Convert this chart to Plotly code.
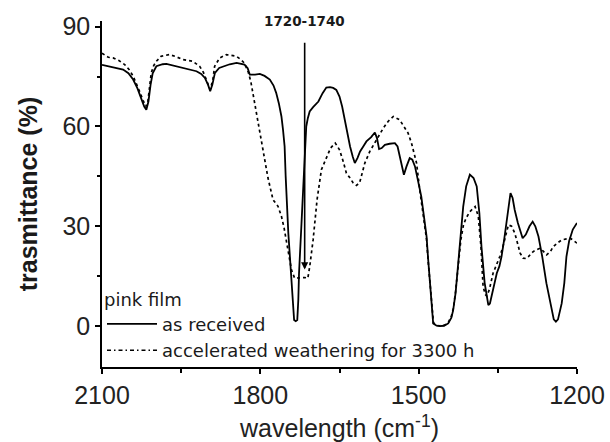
import plotly.graph_objects as go

# FTIR transmittance spectra of the pink film
wn_received = [2100, 2095, 2075, 2060, 2050, 2041, 2033, 2026, 2020, 2016, 2012, 2008, 2004, 1997,
               1985, 1978, 1965, 1947, 1935, 1921, 1912, 1905, 1899, 1895, 1891, 1886, 1878, 1870,
               1858, 1845, 1835, 1830, 1824, 1820, 1810, 1801, 1792, 1782, 1775, 1770, 1765, 1760,
               1757, 1754, 1752, 1750, 1747, 1744, 1741, 1739, 1736, 1733, 1730, 1728, 1726.7, 1722,
               1718, 1713, 1710, 1706.5, 1700, 1690, 1682, 1675, 1668, 1662, 1656, 1650, 1645, 1640,
               1635, 1630, 1625, 1621, 1616, 1611, 1605, 1599, 1590, 1583, 1579, 1575, 1570, 1564,
               1555, 1545, 1540, 1535, 1528, 1523, 1517, 1512, 1507, 1501, 1495, 1490, 1485, 1482,
               1479, 1476, 1472.5, 1466, 1460, 1452, 1444, 1438, 1434.6, 1430, 1425, 1420, 1415.6,
               1410, 1403, 1396, 1390, 1385, 1381, 1375, 1370, 1368, 1365, 1362, 1357, 1352, 1347,
               1343, 1338, 1333, 1329, 1326, 1322, 1318, 1312, 1303, 1297, 1290, 1284, 1279, 1273,
               1266, 1258, 1250, 1244, 1240, 1236, 1229, 1224, 1220, 1215, 1208, 1200]
t_received = [78.5, 78.3, 77.6, 77.1, 76.0, 74.1, 71.5, 68.5, 66.0, 65.0, 67.5, 72.5, 76.0, 78.1,
              78.7, 78.8, 78.3, 77.8, 77.3, 76.6, 75.8, 74.6, 72.5, 70.6, 72.5, 76.1, 77.6, 78.1,
              78.7, 79.1, 78.9, 78.6, 77.5, 75.6, 75.6, 75.8, 75.2, 74.1, 72.3, 70.1, 67.0, 63.0,
              59.0, 54.0, 45.0, 35.9, 28.0, 20.9, 13.5, 7.8, 1.8, 1.5, 1.8, 8.0, 15.9, 30.9,
              44.0, 60.0, 62.5, 64.5, 65.8, 67.5, 70.0, 71.7, 71.8, 71.6, 71.0, 69.0, 66.0, 62.0,
              57.0, 54.0, 51.0, 49.0, 50.5, 52.5, 54.0, 55.5, 56.8, 58.2, 56.5, 53.2, 53.5, 54.5,
              54.8, 55.0, 54.0, 50.0, 45.5, 48.0, 50.5, 50.0, 48.0, 43.5, 38.9, 33.0, 26.9, 20.0,
              13.9, 7.0, 0.8, 0.1, 0.0, 0.1, 0.8, 2.5, 4.8, 10.0, 18.9, 27.0, 35.9,
              42.0, 45.5, 44.5, 42.0, 34.0, 23.9, 13.0, 7.0, 6.3, 6.8, 8.8, 12.5, 15.9, 18.0,
              20.9, 26.0, 31.9, 36.5, 40.0, 38.5, 34.9, 31.0, 26.4, 27.5, 30.0, 31.4, 30.0, 26.9,
              21.0, 12.9, 6.0, 2.0, 1.3, 2.0, 6.8, 13.0, 20.9, 25.5, 29.0, 31.0]

wn_weathered = [2100, 2095, 2088, 2079, 2068, 2057, 2048, 2041, 2035, 2029, 2022, 2017, 2013, 2009,
                2006.7, 2002, 1997, 1988, 1972, 1960, 1947, 1928, 1915, 1908, 1902, 1895, 1890,
                1886.6, 1877, 1864.5, 1845.5, 1836, 1830, 1823, 1818, 1814, 1809, 1804, 1795,
                1785.5, 1776, 1766.5, 1760, 1755, 1750.7, 1745, 1741, 1735, 1728, 1722, 1716,
                1710, 1706.4, 1700, 1692.5, 1684.3, 1675, 1667, 1658, 1650, 1643, 1637, 1630,
                1624, 1618, 1612, 1607, 1602, 1592.6, 1580, 1567, 1558, 1548, 1536, 1528, 1520,
                1513.6, 1504, 1498, 1492, 1488, 1485, 1482, 1479, 1476, 1472, 1466, 1460, 1452,
                1444, 1438, 1434, 1430, 1425, 1420, 1415, 1410, 1403, 1396, 1393, 1387, 1382,
                1378, 1374, 1371, 1366, 1359, 1352, 1346, 1341, 1337, 1330, 1324, 1318, 1312,
                1308, 1302, 1296, 1292, 1283, 1276, 1270, 1264, 1257.5, 1250, 1245, 1237, 1229,
                1220, 1213, 1207, 1200]
t_weathered = [82.0, 81.6, 80.8, 80.6, 79.8, 78.6, 77.0, 75.1, 73.0, 70.6, 67.8, 66.0, 67.6, 72.5,
               76.1, 78.3, 79.6, 81.1, 81.6, 81.0, 80.1, 79.6, 78.1, 76.3, 74.1, 71.1, 74.0,
               78.1, 80.6, 81.6, 81.1, 80.0, 79.0, 76.4, 73.5, 70.1, 65.5, 61.1, 53.0,
               44.5, 38.0, 36.0, 33.0, 29.5, 25.9, 21.0, 16.9, 14.4, 14.5, 14.7, 14.6,
               14.4, 17.9, 25.9, 38.0, 47.0, 50.5, 53.5, 55.0, 53.0, 49.5, 46.0, 44.5,
               43.0, 42.3, 43.0, 46.0, 49.0, 52.5, 56.0, 59.5, 61.5, 63.0, 62.0, 60.0, 58.0,
               55.0, 49.0, 41.0, 34.0, 30.0, 26.0, 19.5, 13.5, 7.0, 1.0, 0.2, 0.1, 0.2,
               1.0, 3.0, 5.5, 10.5, 19.0, 26.0, 30.5, 32.5, 34.4, 35.5, 35.9, 33.0, 24.0,
               12.0, 9.5, 9.0, 11.0, 15.9, 18.5, 21.0, 23.5, 25.9, 30.4, 30.0, 28.0, 24.5,
               22.0, 20.4, 20.3, 20.9, 22.4, 23.0, 23.4, 22.5, 21.4, 22.5, 23.9, 25.0, 25.9,
               26.2, 26.4, 25.8, 24.9]

x_ticks = [2100, 1800, 1500, 1200]
x_minor = [1950, 1650, 1350]
y_ticks = [0, 30, 60, 90]
y_minor = [15, 45, 75]

# carbonyl band marker: label sits at the arrow tail, arrow points down to the band
band_label = "1720-1740"
band_pos = 1716
band_label_y = 91.6
band_tip = 17.0

FONT = "Liberation Sans, Arial, sans-serif"
WIDE = "DejaVu Sans, Liberation Sans, sans-serif"
INK = "#1a1a1a"

fig = go.Figure()
fig.add_trace(go.Scatter(
    x=wn_received, y=t_received, mode="lines", name="as received",
    line=dict(color="black", width=1.8),
))
fig.add_trace(go.Scatter(
    x=wn_weathered, y=t_weathered, mode="lines", name="accelerated weathering for 3300 h",
    line=dict(color="black", width=1.7, dash="dot"), showlegend=False,
    legendgroup="weathered",
))
# legend key for the weathered spectrum (dash-dot sample)
fig.add_trace(go.Scatter(
    x=[None], y=[None], mode="lines", name="accelerated weathering for 3300 h",
    line=dict(color="black", width=1.5, dash="4px,3px,1.5px,3px"),
    legendgroup="weathered",
))

fig.add_annotation(
    x=band_pos, y=band_tip, ax=band_pos, ay=band_label_y, axref="x", ayref="y",
    xref="x", yref="y", text="<b>" + band_label + "</b>", showarrow=True,
    arrowhead=2, arrowsize=0.9, arrowwidth=1.6, arrowcolor="black",
    startstandoff=12, font=dict(family=WIDE, size=13.5, color=INK),
)

fig.update_layout(
    width=610, height=442,
    margin=dict(l=102, r=33, t=21, b=75),
    paper_bgcolor="white", plot_bgcolor="white",
    font=dict(family=FONT, color=INK),
    showlegend=True,
    legend=dict(
        x=0.0, y=0.245, xanchor="left", yanchor="top",
        bgcolor="rgba(0,0,0,0)", borderwidth=0,
        title=dict(text="pink film", font=dict(size=18, family=WIDE, color=INK)),
        font=dict(size=18, family=WIDE, color=INK),
        itemwidth=50, tracegroupgap=0,
    ),
    xaxis=dict(
        range=[2100, 1200], tickvals=x_ticks, ticktext=[str(v) for v in x_ticks],
        ticks="outside", ticklen=5, tickwidth=1.5, tickcolor="black",
        showline=True, linewidth=1.5, linecolor="black", mirror=False,
        showgrid=False, zeroline=False, automargin=False,
        tickfont=dict(size=25, family=FONT, color="#222"),
        minor=dict(tickvals=x_minor, ticks="outside", ticklen=4, tickwidth=1.5,
                   tickcolor="black", showgrid=False),
        title=dict(text="wavelength (cm<sup>-1</sup>)", standoff=12,
                   font=dict(size=25, family=FONT, color="#222")),
    ),
    yaxis=dict(
        range=[-12.3, 91.7], tickvals=y_ticks,
        ticks="outside", ticklen=5, tickwidth=1.5, tickcolor="black",
        showline=True, linewidth=1.5, linecolor="black", mirror=False,
        showgrid=False, zeroline=False, automargin=False,
        tickfont=dict(size=25, family=FONT, color="#222"),
        minor=dict(tickvals=y_minor, ticks="outside", ticklen=3, tickwidth=1.5,
                   tickcolor="black", showgrid=False),
        title=dict(text="<b>trasmittance (%)</b>", standoff=18,
                   font=dict(size=25, family=FONT, color=INK)),
    ),
)

fig.write_html("out.html")
